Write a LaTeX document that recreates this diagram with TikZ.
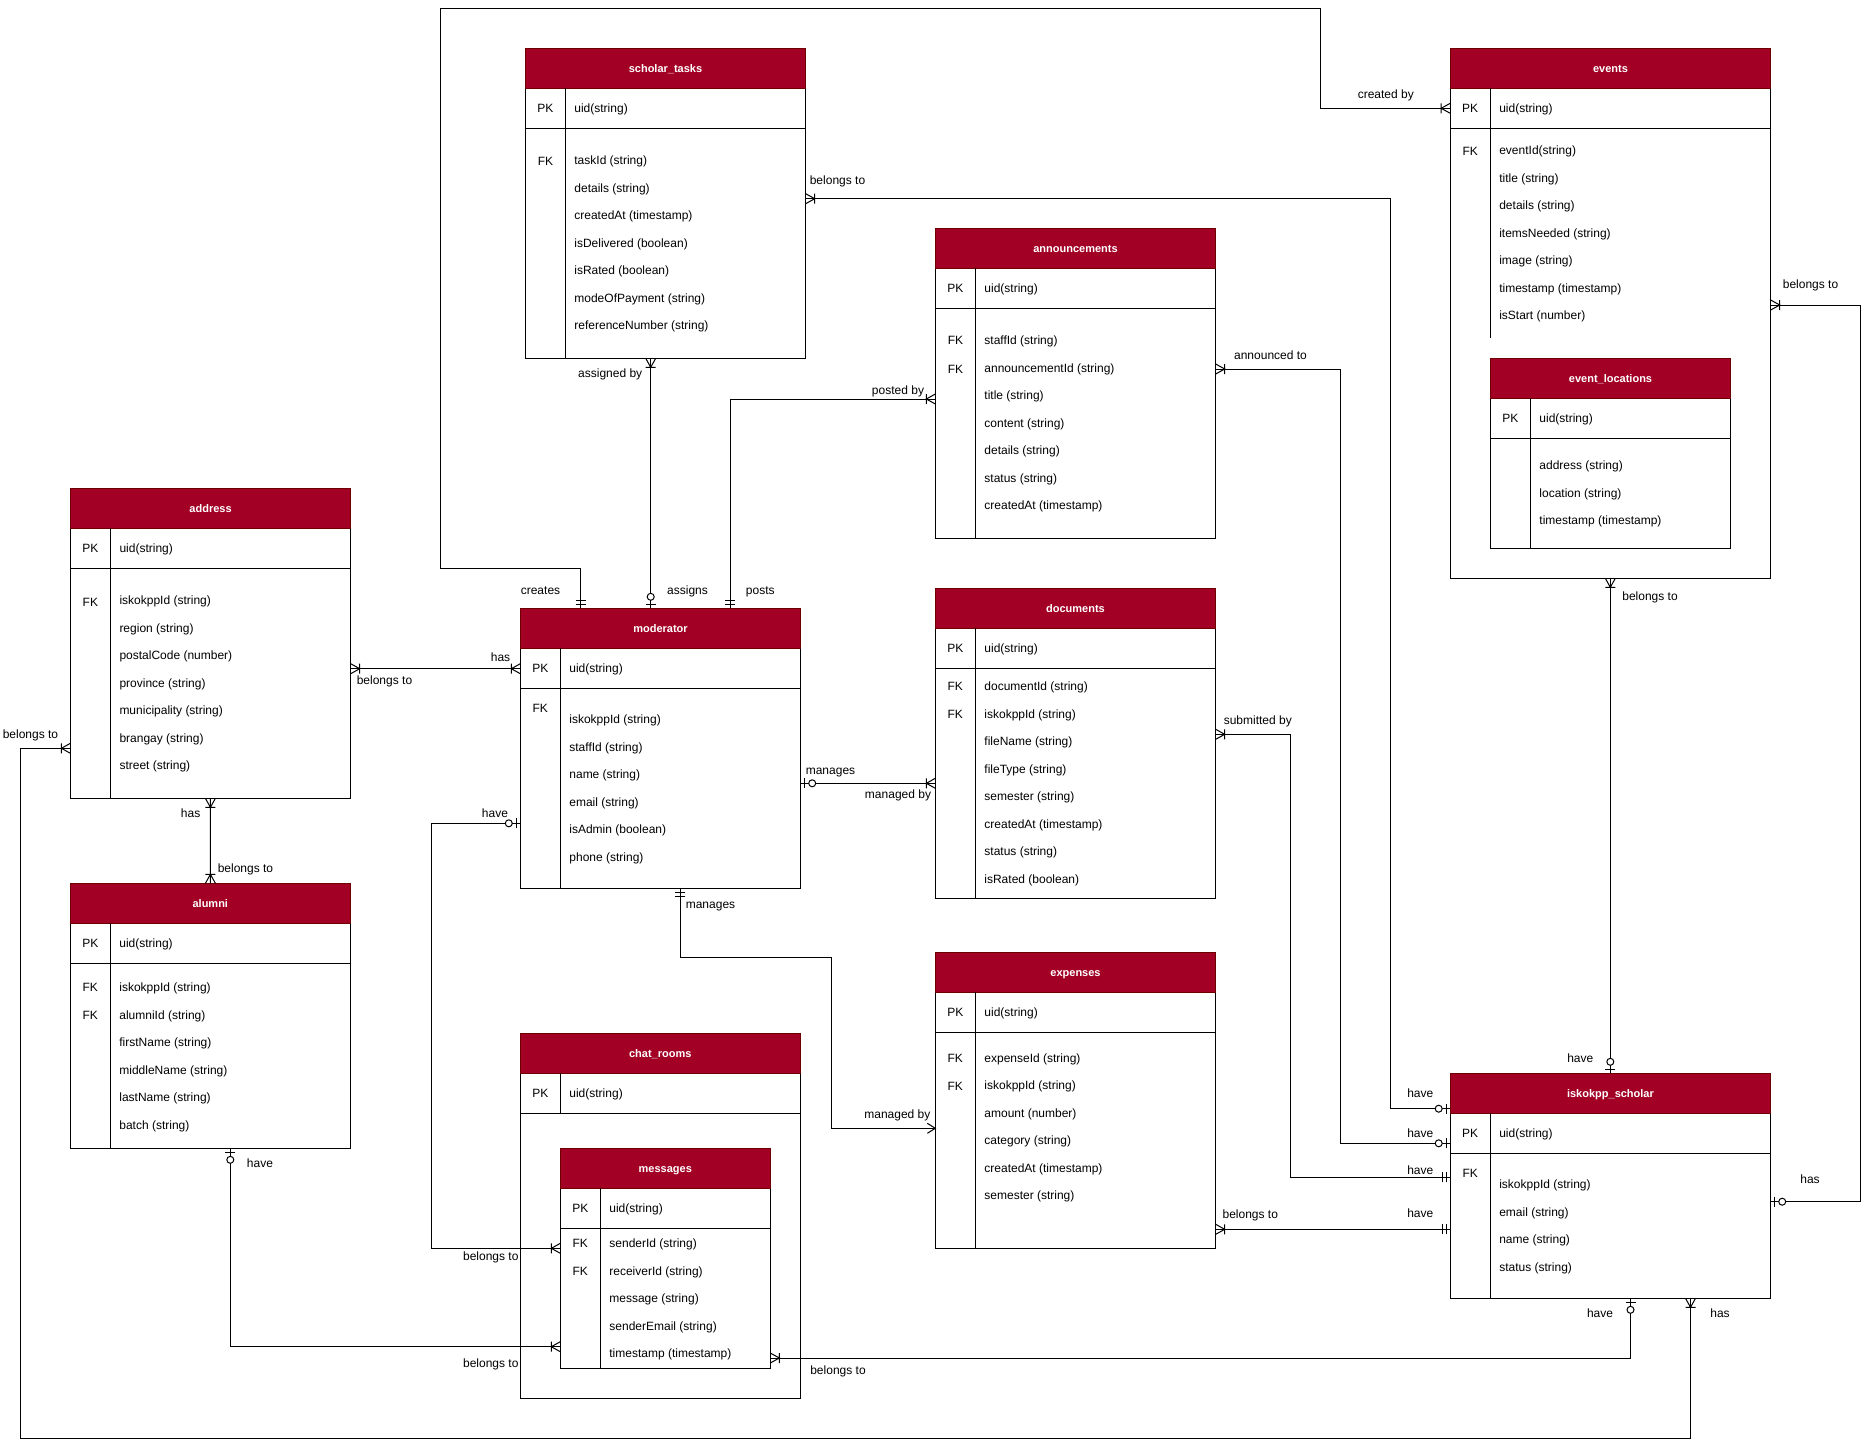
\documentclass[tikz,border=0pt]{standalone}
\usepackage{fontspec}
\setmainfont{Liberation Sans}
\definecolor{hdrred}{HTML}{A20025}
\definecolor{hdrdark}{HTML}{6F0000}
\tikzset{
  tbody/.style={draw=black, fill=white, line width=1pt, inner sep=0pt, outer sep=0pt},
  hdr/.style={fill=hdrred, draw=hdrdark, line width=1pt},
  htext/.style={text=white, font=\fontsize{11}{13}\selectfont\bfseries, anchor=base, yshift=-4pt, inner sep=0pt},
  fld/.style={font=\fontsize{12}{14}\selectfont, anchor=base west, yshift=-4.2pt, inner sep=0pt},
  keyt/.style={font=\fontsize{12}{14}\selectfont, anchor=base, yshift=-4.2pt, inner sep=0pt},
  lbl/.style={font=\fontsize{12}{14}\selectfont, anchor=base, yshift=-4.2pt, inner sep=0pt},
  conn/.style={line width=1pt, draw=black},
  ermandone/.pic={\draw[line width=1pt] (4,-5)--(4,5) (8,-5)--(8,5);},
  erzeroone/.pic={\draw[line width=1pt] (4,-5)--(4,5); \draw[line width=1pt, fill=white] (11.5,0) circle[radius=3.5];},
  eronemany/.pic={\draw[line width=1pt] (0,-5)--(9,0)--(0,5) (9,-5)--(9,5);},
  eropen/.pic={\draw[line width=1pt] (8,-5)--(0,0)--(8,5);},
}
% #1 name, #2 title, #3 left, #4 top, #5 width, #6 height, #7 key-divider end (from top)
\newcommand{\ertab}[7]{%
  \node[tbody, minimum width=#5pt, minimum height=#6pt, anchor=north west] (#1) at (#3,#4) {};
  \draw[hdr] (#3,#4) rectangle ++(#5,40);
  \node[htext] (#1-t) at ({#3+#5/2},{#4+20}) {#2};
  \draw ({#3},{#4+80}) -- ++(#5,0);
  \draw ({#3+40},{#4+40}) -- ({#3+40},{#4+#7});
  \node[keyt] (#1-pk) at ({#3+20},{#4+60}) {PK};
  \node[fld] (#1-uid) at ({#3+48.6},{#4+60}) {uid(string)};
}
\newcommand{\erfields}[4]{%
  \foreach \ertxt [count=\erk] in {#4} {
    \node[fld] (#1-f\erk) at ({#2},{#3+(\erk-1)*27.5}) {\ertxt};
  }%
}
\newcommand{\erfk}[3]{\node[keyt] (#1) at (#2,#3) {FK};}
\begin{document}
\begin{tikzpicture}[x=1pt,y=-1pt,line width=1pt]
\path[fill=white, use as bounding box] (0,0) rectangle (1870,1448);

% ---------- tables ----------
\ertab{st}{scholar\_tasks}{525.3}{48.3}{280.4}{310}{310}
\erfk{stfk1}{545.5}{161.7}
\erfields{st}{573.9}{160.7}{taskId (string), details (string), createdAt (timestamp), isDelivered (boolean), isRated (boolean), modeOfPayment (string), referenceNumber (string)}

\ertab{ev}{events}{1450.2}{48.3}{320.5}{530}{290}
\erfk{evfk1}{1470.2}{151.7}
\erfields{ev}{1498.8}{150.7}{eventId(string), title (string), details (string), itemsNeeded (string), image (string), timestamp (timestamp), isStart (number)}

\ertab{el}{event\_locations}{1490.3}{358.3}{240.4}{190}{190}
\erfields{el}{1538.9}{465.7}{address (string), location (string), timestamp (timestamp)}

\ertab{an}{announcements}{935.3}{228.3}{280.4}{310}{310}
\erfk{anfk1}{955.5}{340.7}
\erfk{anfk2}{955.5}{369}
\erfields{an}{983.9}{340.7}{staffId (string), announcementId (string), title (string), content (string), details (string), status (string), createdAt (timestamp)}

\ertab{ad}{address}{70.4}{488.3}{280.3}{310}{310}
\erfk{adfk1}{90.4}{602}
\erfields{ad}{119}{600.7}{iskokppId (string), region (string), postalCode (number), province (string), municipality (string), brangay (string), street (string)}

\ertab{mo}{moderator}{520.3}{608.3}{280.4}{280}{280}
\erfk{mofk1}{540.3}{708.7}
\erfields{mo}{568.9}{719.7}{iskokppId (string), staffId (string), name (string), email (string), isAdmin (boolean), phone (string)}

\ertab{doc}{documents}{935.3}{588.3}{280.4}{310}{310}
\erfk{docfk1}{955.3}{686.7}
\erfk{docfk2}{955.3}{714.7}
\erfields{doc}{983.9}{686.7}{documentId (string), iskokppId (string), fileName (string), fileType (string), semester (string), createdAt (timestamp), status (string), isRated (boolean)}

\ertab{ex}{expenses}{935.3}{952.3}{280.4}{296}{296}
\erfk{exfk1}{955.3}{1058}
\erfk{exfk2}{955.3}{1086}
\erfields{ex}{983.9}{1058}{expenseId (string), iskokppId (string), amount (number), category (string), createdAt (timestamp), semester (string)}

\ertab{is}{iskokpp\_scholar}{1450.2}{1073.3}{320.5}{225}{225}
\erfk{isfk1}{1470.2}{1173.7}
\erfields{is}{1498.8}{1184.7}{iskokppId (string), email (string), name (string), status (string)}

\ertab{cr}{chat\_rooms}{520.3}{1033.3}{280}{365}{80}
\ertab{ms}{messages}{560.3}{1148.3}{210}{220}{220}
\erfk{msfk1}{580.3}{1243.7}
\erfk{msfk2}{580.3}{1271.2}
\erfields{ms}{608.9}{1243.7}{senderId (string), receiverId (string), message (string), senderEmail (string), timestamp (timestamp)}

\ertab{al}{alumni}{70.3}{883.3}{280}{265}{265}
\erfk{alfk1}{90.3}{987}
\erfk{alfk2}{90.3}{1015}
\erfields{al}{118.9}{987.7}{iskokppId (string), alumniId (string), firstName (string), middleName (string), lastName (string), batch (string)}

% ---------- connector end points ----------
\coordinate (c1a) at ([xshift=60.4pt]mo.north west);
\coordinate (c1b) at ([yshift=-60pt]ev.north west);
\coordinate (c2a) at ([xshift=125.4pt]st.south west);
\coordinate (c2b) at ([xshift=130.4pt]mo.north west);
\coordinate (c3a) at ([xshift=210pt]mo.north west);
\coordinate (c3b) at ([yshift=-170.7pt]an.north west);
\coordinate (c4a) at ([yshift=-180.4pt]ad.north east);
\coordinate (c4b) at ([yshift=-60.4pt]mo.north west);
\coordinate (c5a) at ([xshift=140pt]ad.south west);
\coordinate (c5b) at ([xshift=140.1pt]al.north west);
\coordinate (c6a) at ([yshift=-260pt]ad.north west);
\coordinate (c6b) at ([xshift=240.3pt]is.south west);
\coordinate (c7a) at ([yshift=-215pt]mo.north west);
\coordinate (c7b) at ([yshift=-100pt]ms.north west);
\coordinate (c8a) at ([yshift=-175pt]mo.north east);
\coordinate (c8b) at ([yshift=-195pt]doc.north west);
\coordinate (c9a) at ([xshift=160pt]mo.south west);
\coordinate (c9b) at ([yshift=-176pt]ex.north west);
\coordinate (c10a) at ([yshift=-150.4pt]st.north east);
\coordinate (c10b) at ([yshift=-35.4pt]is.north west);
\coordinate (c11a) at ([yshift=-140.7pt]an.north east);
\coordinate (c11b) at ([yshift=-70pt]is.north west);
\coordinate (c12a) at ([yshift=-146pt]doc.north east);
\coordinate (c12b) at ([yshift=-104pt]is.north west);
\coordinate (c13a) at ([yshift=-277pt]ex.north east);
\coordinate (c13b) at ([yshift=-156pt]is.north west);
\coordinate (c14a) at ([xshift=160.1pt]ev.south west);
\coordinate (c14b) at ([xshift=160.1pt]is.north west);
\coordinate (c15a) at ([yshift=-256.7pt]ev.north east);
\coordinate (c15b) at ([yshift=-128.4pt]is.north east);
\coordinate (c16a) at ([xshift=180.3pt]is.south west);
\coordinate (c16b) at ([yshift=-209.7pt]ms.north east);
\coordinate (c17a) at ([xshift=160pt]al.south west);
\coordinate (c17b) at ([yshift=-198.4pt]ms.north west);

% ---------- connectors ----------
\draw[conn] (c1a) -- ++(0,-40) -| (440.7,8.3) -| (1320.4,108.3) -- (c1b);
\draw[conn] (c2a) -- (c2b);
\draw[conn] (c3a) |- (c3b);
\draw[conn] (c4a) -- (c4b);
\draw[conn] (c5a) -- (c5b);
\draw[conn] (c6a) -- (20.7,748.3) -- (20.7,1438.3) -| (c6b);
\draw[conn] (c7a) -| (431.8,1248.3) -- (c7b);
\draw[conn] (c8a) -- (c8b);
\draw[conn] (c9a) |- (831.2,957.7) |- (c9b);
\draw[conn] (c10a) -| (1390.5,1108.7) -- (c10b);
\draw[conn] (c11a) -| (1340.7,1143.3) -- (c11b);
\draw[conn] (c12a) -| (1290.3,1177.3) -- (c12b);
\draw[conn] (c13a) -- (c13b);
\draw[conn] (c14a) -- (c14b);
\draw[conn] (c15a) -- (1860.3,305) |- (c15b);
\draw[conn] (c16a) |- (c16b);
\draw[conn] (c17a) |- (c17b);

% ---------- end symbols ----------
\pic[rotate=90] at (c1a) {ermandone};
\pic[rotate=180] at (c1b) {eronemany};
\pic[rotate=270] at (c2a) {eronemany};
\pic[rotate=90] at (c2b) {erzeroone};
\pic[rotate=90] at (c3a) {ermandone};
\pic[rotate=180] at (c3b) {eronemany};
\pic[rotate=0] at (c4a) {eronemany};
\pic[rotate=180] at (c4b) {eronemany};
\pic[rotate=270] at (c5a) {eronemany};
\pic[rotate=90] at (c5b) {eronemany};
\pic[rotate=180] at (c6a) {eronemany};
\pic[rotate=270] at (c6b) {eronemany};
\pic[rotate=180] at (c7a) {erzeroone};
\pic[rotate=180] at (c7b) {eronemany};
\pic[rotate=0] at (c8a) {erzeroone};
\pic[rotate=180] at (c8b) {eronemany};
\pic[rotate=270] at (c9a) {ermandone};
\pic[rotate=180] at (c9b) {eropen};
\pic[rotate=0] at (c10a) {eronemany};
\pic[rotate=180] at (c10b) {erzeroone};
\pic[rotate=0] at (c11a) {eronemany};
\pic[rotate=180] at (c11b) {erzeroone};
\pic[rotate=0] at (c12a) {eronemany};
\pic[rotate=180] at (c12b) {ermandone};
\pic[rotate=0] at (c13a) {eronemany};
\pic[rotate=180] at (c13b) {ermandone};
\pic[rotate=270] at (c14a) {eronemany};
\pic[rotate=90] at (c14b) {erzeroone};
\pic[rotate=0] at (c15a) {eronemany};
\pic[rotate=0] at (c15b) {erzeroone};
\pic[rotate=270] at (c16a) {erzeroone};
\pic[rotate=0] at (c16b) {eronemany};
\pic[rotate=270] at (c17a) {erzeroone};
\pic[rotate=180] at (c17b) {eronemany};

% ---------- connector labels ----------
\node[lbl] (l1) at (540.5,590) {creates};
\node[lbl] (l2) at (1385.8,94) {created by};
\node[lbl] (l3) at (610.2,373) {assigned by};
\node[lbl] (l4) at (687.5,590) {assigns};
\node[lbl] (l5) at (760.3,590) {posts};
\node[lbl] (l6) at (898,390) {posted by};
\node[lbl] (l7) at (384.5,680.7) {belongs to};
\node[lbl] (l8) at (500.5,657.7) {has};
\node[lbl] (l9) at (190.6,813.3) {has};
\node[lbl] (l10) at (245.5,868.7) {belongs to};
\node[lbl] (l11) at (30.5,734) {belongs to};
\node[lbl] (l12) at (1720,1313.7) {has};
\node[lbl] (l13) at (495,813.3) {have};
\node[lbl] (l14) at (490.8,1256.7) {belongs to};
\node[lbl] (l15) at (830.5,770) {manages};
\node[lbl] (l16) at (898,794) {managed by};
\node[lbl] (l17) at (710.5,904) {manages};
\node[lbl] (l18) at (897.4,1114) {managed by};
\node[lbl] (l19) at (837.5,180) {belongs to};
\node[lbl] (l20) at (1420.3,1093.7) {have};
\node[lbl] (l21) at (1270.5,355) {announced to};
\node[lbl] (l22) at (1420.3,1133.7) {have};
\node[lbl] (l23) at (1257.8,720) {submitted by};
\node[lbl] (l24) at (1420.3,1170.7) {have};
\node[lbl] (l25) at (1250.3,1214) {belongs to};
\node[lbl] (l26) at (1420.3,1213.7) {have};
\node[lbl] (l27) at (1650,596.7) {belongs to};
\node[lbl] (l28) at (1580.3,1058.7) {have};
\node[lbl] (l29) at (1810.5,284) {belongs to};
\node[lbl] (l30) at (1810,1179) {has};
\node[lbl] (l31) at (1600,1313.7) {have};
\node[lbl] (l32) at (838,1370.7) {belongs to};
\node[lbl] (l33) at (260,1163.7) {have};
\node[lbl] (l34) at (490.8,1363.7) {belongs to};
\end{tikzpicture}
\end{document}
